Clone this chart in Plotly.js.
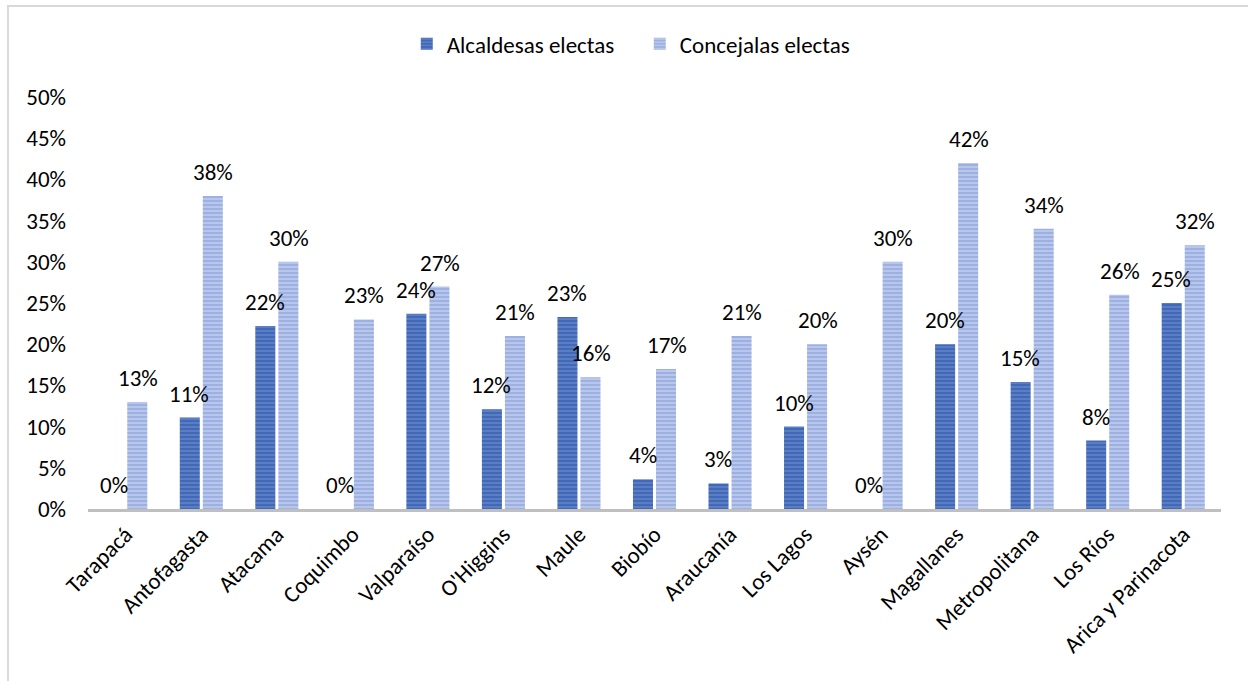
<!DOCTYPE html>
<html>
<head>
<meta charset="utf-8">
<script src="https://cdn.plot.ly/plotly-3.0.1.min.js"></script>
<style>
  html, body { margin: 0; padding: 0; background: #fff; }
  #frame { position: absolute; left: 7px; top: 5px; width: 1300px; height: 700px;
           border-top: 2px solid #d9d9d9; border-left: 2px solid #d9d9d9; box-sizing: border-box; pointer-events: none; z-index: 5; }
  #chart { width: 1248px; height: 681px; }
</style>
</head>
<body>
<div id="frame"></div>
<div id="chart"></div>
<script>
const regiones = ["Tarapacá","Antofagasta","Atacama","Coquimbo","Valparaíso","O'Higgins","Maule","Biobío","Araucanía","Los Lagos","Aysén","Magallanes","Metropolitana","Los Ríos","Arica y Parinacota"];
const alcaldesas = [0, 11.1, 22.2, 0, 23.7, 12.1, 23.3, 3.6, 3.1, 10.0, 0, 20.0, 15.4, 8.3, 25.0];
const concejalas = [13, 38, 30, 23, 27, 21, 16, 17, 21, 20, 30, 42, 34, 26, 32];
const yTicks = [0, 5, 10, 15, 20, 25, 30, 35, 40, 45, 50];
const yTickText = yTicks.map(v => v + "%");

const FONT = "Carlito, Calibri, Lato, sans-serif";
const FS = 23;

const traces = [
  {
    type: "bar", name: "Alcaldesas electas", x: regiones, y: alcaldesas,
    marker: { color: "#4169b8", line: { width: 0 },
      pattern: { shape: "-", fillmode: "overlay", fgcolor: "#7f9ad6", size: 4, solidity: 0.4 } },
    hoverinfo: "x+y"
  },
  {
    type: "bar", name: "Concejalas electas", x: regiones, y: concejalas,
    marker: { color: "#9cb0e2", line: { width: 0 },
      pattern: { shape: "-", fillmode: "overlay", fgcolor: "#dfe6f6", size: 4, solidity: 0.4 } },
    hoverinfo: "x+y"
  }
];

const annotations = [];
[alcaldesas, concejalas].forEach((serie, si) => {
  serie.forEach((v, i) => {
    annotations.push({
      x: regiones[i], y: v, xref: "x", yref: "y",
      text: Math.round(v) + "%", showarrow: false,
      xshift: si === 0 ? -12 : 12, yshift: 24, yanchor: "middle", xanchor: "center",
      font: { family: FONT, size: FS, color: "#000" }
    });
  });
});

const layout = {
  width: 1248, height: 681,
  margin: { l: 88, r: 27, t: 97, b: 172 },
  paper_bgcolor: "#fff", plot_bgcolor: "#fff",
  barmode: "group", bargap: 0.39, bargroupgap: 0.13,
  font: { family: FONT, size: FS, color: "#000" },
  showlegend: true,
  legend: { orientation: "h", x: 0.487, xanchor: "center", y: 1.129, yanchor: "middle",
            font: { family: FONT, size: FS, color: "#000" }, itemwidth: 30, traceorder: "normal",
            entrywidth: 188, entrywidthmode: "pixels" },
  xaxis: {
    tickangle: -45, showline: true, linecolor: "#bfbfbf", linewidth: 3, automargin: false,
    showgrid: false, ticks: "", tickfont: { family: FONT, size: FS, color: "#000" }
  },
  yaxis: {
    range: [0, 50], tickvals: yTicks, ticktext: yTickText, showgrid: false, automargin: false,
    zeroline: false, showline: false, ticks: "", ticklabelstandoff: 21,
    tickfont: { family: FONT, size: FS, color: "#000" }
  },
  annotations: annotations
};

Plotly.newPlot("chart", traces, layout, { displayModeBar: false, staticPlot: true });
</script>
</body>
</html>
